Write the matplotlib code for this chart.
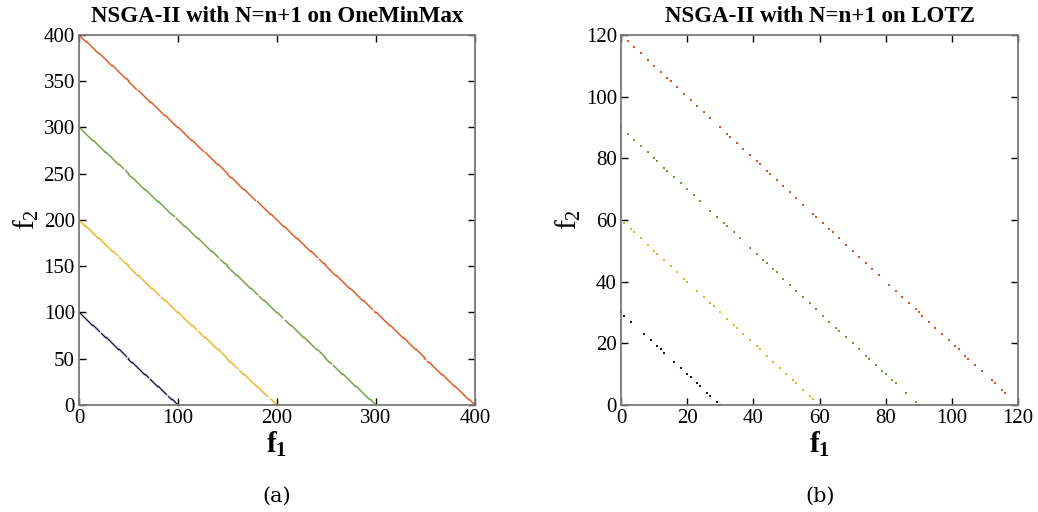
import numpy as np
import matplotlib
matplotlib.use("Agg")
from matplotlib import pyplot as plt

plt.rcParams['font.family'] = ['Liberation Serif', 'DejaVu Serif']
plt.rcParams['mathtext.fontset'] = 'custom'
plt.rcParams['mathtext.rm'] = 'Liberation Serif'
plt.rcParams['mathtext.bf'] = 'Liberation Serif:bold'

colors = ['#14143c', '#EDB120', '#6c9c3c', '#D95319']

# OneMinMax: problem sizes and the covered f1 runs (start, end)
omm_sizes = [100, 200, 300, 400]
omm_runs_100 = [(0, 20), (22, 47), (49, 70), (72, 88), (90, 100)]
omm_runs_200 = [(0, 38), (40, 81), (83, 118), (120, 160), (162, 190), (193, 200)]
omm_runs_300 = [(0, 44), (46, 96), (98, 140), (142, 180), (182, 205), (208, 255), (257, 300)]
omm_runs_400 = [(0, 58), (60, 125), (127, 178), (180, 240), (242, 296), (298, 350), (352, 400)]
omm_runs = [omm_runs_100, omm_runs_200, omm_runs_300, omm_runs_400]

# LOTZ: problem sizes and f1 values of the final population
lotz_sizes = [30, 60, 90, 120]
lotz_f1_30 = [0, 1, 3, 7, 9, 11, 12, 13, 16, 18, 20, 21, 23, 24, 26, 27, 29, 30]
lotz_f1_60 = [0, 1, 3, 4, 6, 8, 10, 11, 13, 15, 17, 19, 20, 23, 25, 27, 28, 30, 32,
              34, 35, 37, 39, 41, 42, 44, 46, 48, 50, 52, 53, 55, 57, 58, 60]
lotz_f1_90 = [0, 2, 4, 6, 8, 10, 11, 13, 14, 16, 18, 20, 22, 24, 27, 29, 31, 32, 34,
              36, 39, 41, 43, 44, 46, 47, 49, 51, 53, 55, 57, 59, 61, 63, 65, 66, 68,
              70, 72, 74, 75, 77, 79, 80, 82, 83, 86, 89, 90]
lotz_f1_120 = [0, 2, 4, 6, 8, 10, 12, 14, 15, 17, 19, 21, 23, 25, 27, 30, 32, 33, 35,
               37, 39, 41, 42, 44, 45, 47, 49, 51, 53, 55, 58, 59, 61, 63, 64, 66, 68,
               70, 72, 74, 76, 78, 81, 83, 85, 87, 89, 90, 91, 93, 95, 97, 99, 101,
               102, 104, 105, 107, 109, 112, 113, 115, 116]
lotz_f1 = [lotz_f1_30, lotz_f1_60, lotz_f1_90, lotz_f1_120]

fig = plt.figure(figsize=(10.38, 5.12), dpi=100)
ax1 = fig.add_axes([0.0761, 0.209, 0.3815, 0.7227])
ax2 = fig.add_axes([0.5983, 0.209, 0.3825, 0.7227])

for n, runs, c in zip(omm_sizes, omm_runs, colors):
    f1 = np.concatenate([np.arange(a, b + 1) for a, b in runs])
    ax1.plot(f1, n - f1, 's', color=c, markersize=1.1, markeredgewidth=0, clip_on=False)

for n, vals, c in zip(lotz_sizes, lotz_f1, colors):
    f1 = np.array(vals)
    ax2.plot(f1, n - f1, 's', color=c, markersize=2.0, markeredgewidth=0, clip_on=False)

def style(ax, lim, xt, yt, title):
    ax.set_xlim(0, lim)
    ax.set_ylim(0, lim)
    ax.set_xticks(xt)
    ax.set_yticks(yt)
    ax.tick_params(direction='in', top=True, right=True, labelsize=15, length=5,
                   width=1, color='black', pad=3)
    for s in ax.spines.values():
        s.set_color('#7a7a7a')
        s.set_linewidth(1.3)
    ax.set_title(title, fontsize=16.5, fontweight='bold', pad=9)
    ax.set_xlabel(r'$\mathbf{f_1}$', fontsize=21, labelpad=1)
    ax.set_ylabel(r'$\mathrm{f_2}$', fontsize=21, labelpad=2)

style(ax1, 400, range(0, 401, 100), range(0, 401, 50), 'NSGA-II with N=n+1 on OneMinMax')
style(ax2, 120, range(0, 121, 20), range(0, 121, 20), 'NSGA-II with N=n+1 on LOTZ')

fig.text(0.267, 0.02, '(a)', fontsize=15, ha='center', family='DejaVu Serif')
fig.text(0.790, 0.02, '(b)', fontsize=15, ha='center', family='DejaVu Serif')

fig.savefig('out.png', dpi=100)
